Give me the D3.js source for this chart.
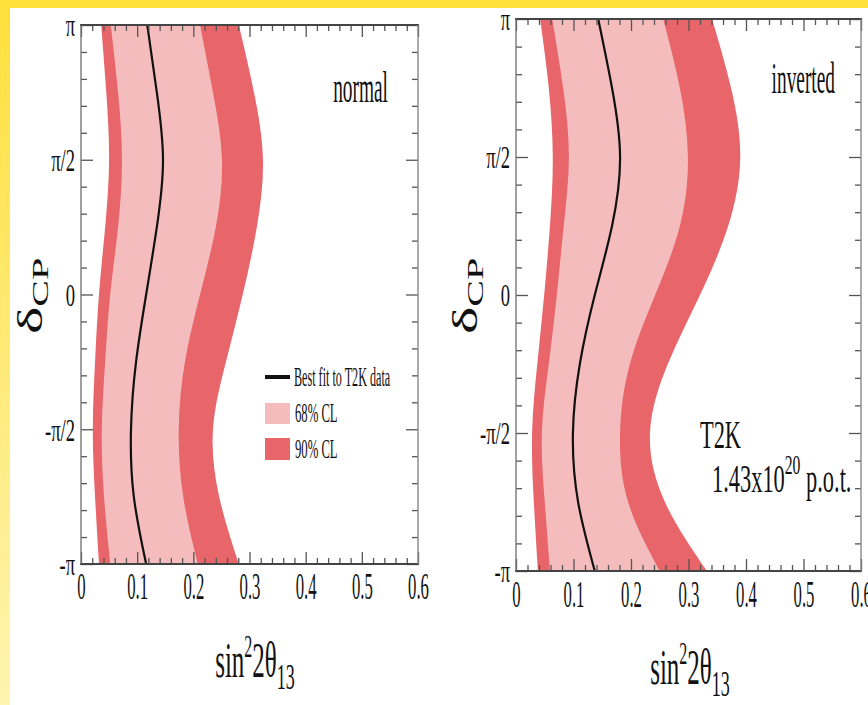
<!DOCTYPE html>
<html>
<head>
<meta charset="utf-8">
<script src="https://cdn.jsdelivr.net/npm/d3@7"></script>
<style>
  html, body { margin: 0; padding: 0; background: #fff; }
  svg { display: block; }
  text { font-family: "Liberation Serif", "DejaVu Serif", serif; fill: #111; }
</style>
</head>
<body>
<svg id="chart" width="868" height="705"></svg>
<script>
// delta_CP sample points, from +pi down to -pi
const PI = Math.PI;
const deltaCP = [PI, 0.75 * PI, 0.5 * PI, 0.25 * PI, 0, -0.25 * PI, -0.5 * PI, -0.75 * PI, -PI];

// Normal hierarchy: sin^2 2theta13 contour edges and best fit
const normalOuterLeft  = [0.036, 0.045, 0.050, 0.043, 0.032, 0.025, 0.021, 0.025, 0.032];
const normalInnerLeft  = [0.053, 0.066, 0.073, 0.066, 0.052, 0.043, 0.037, 0.041, 0.052];
const normalBestFit    = [0.118, 0.135, 0.146, 0.135, 0.116, 0.098, 0.089, 0.094, 0.116];
const normalInnerRight = [0.212, 0.235, 0.251, 0.240, 0.212, 0.185, 0.174, 0.182, 0.208];
const normalOuterRight = [0.281, 0.308, 0.324, 0.313, 0.288, 0.258, 0.235, 0.246, 0.281];

// Inverted hierarchy
const invertedOuterLeft  = [0.042, 0.057, 0.064, 0.059, 0.049, 0.037, 0.028, 0.031, 0.038];
const invertedInnerLeft  = [0.063, 0.082, 0.092, 0.083, 0.071, 0.057, 0.045, 0.050, 0.059];
const invertedBestFit    = [0.143, 0.167, 0.181, 0.167, 0.137, 0.111, 0.099, 0.108, 0.137];
const invertedInnerRight = [0.256, 0.285, 0.299, 0.285, 0.242, 0.198, 0.181, 0.195, 0.250];
const invertedOuterRight = [0.341, 0.374, 0.390, 0.369, 0.320, 0.264, 0.233, 0.259, 0.332];

// Axis ticks
const xMajorTicks = [0, 0.1, 0.2, 0.3, 0.4, 0.5, 0.6];
const xTickLabels = ["0", "0.1", "0.2", "0.3", "0.4", "0.5", "0.6"];
const yMajorTicks = [-PI, -PI / 2, 0, PI / 2, PI];
const yTickLabels = ["-\u03c0", "-\u03c0/2", "0", "\u03c0/2", "\u03c0"];

const legendLabels = ["Best fit to T2K data", "68% CL", "90% CL"];

const COLOR_68 = "#f4bcbd";
const COLOR_90 = "#e8656a";

const svg = d3.select("#chart");

// page frame: yellow bands on top and left
const defs = svg.append("defs");
const grad = defs.append("linearGradient").attr("id", "leftBand")
  .attr("x1", 0).attr("y1", 0).attr("x2", 0).attr("y2", 1);
grad.append("stop").attr("offset", "0%").attr("stop-color", "#ffe03c");
grad.append("stop").attr("offset", "100%").attr("stop-color", "#fff4b0");
svg.append("rect").attr("x", 0).attr("y", 0).attr("width", 868).attr("height", 705).attr("fill", "#fff");
svg.append("rect").attr("x", 0).attr("y", 0).attr("width", 868).attr("height", 8).attr("fill", "#ffe03c");
svg.append("rect").attr("x", 0).attr("y", 0).attr("width", 10).attr("height", 705).attr("fill", "url(#leftBand)");

const panels = [
  {
    id: "normal", left: 81, right: 418, top: 25, bottom: 564,
    outerL: normalOuterLeft, innerL: normalInnerLeft, best: normalBestFit,
    innerR: normalInnerRight, outerR: normalOuterRight,
    tag: "normal", tagX: 388, tagY: 102, legend: true,
    xLabelY: 599, titleX: 255, titleY: 677, yTitleX: 42, yTitleY: 296
  },
  {
    id: "inverted", left: 516, right: 861, top: 19, bottom: 571,
    outerL: invertedOuterLeft, innerL: invertedInnerLeft, best: invertedBestFit,
    innerR: invertedInnerRight, outerR: invertedOuterRight,
    tag: "inverted", tagX: 835, tagY: 93, legend: false,
    xLabelY: 607, titleX: 690, titleY: 684, yTitleX: 477, yTitleY: 296
  }
];

// horizontally condensed serif text
function condensedText(parent, x, y, str, size, anchor, sx) {
  const g = parent.append("g").attr("transform", `translate(${x},${y}) scale(${sx},1)`);
  return g.append("text").attr("x", 0).attr("y", 0)
    .attr("font-size", size).attr("text-anchor", anchor || "start").text(str);
}

panels.forEach(p => {
  const g = svg.append("g").attr("class", "panel-" + p.id);
  const x = d3.scaleLinear().domain([0, 0.6]).range([p.left, p.right]);
  const y = d3.scaleLinear().domain([-PI, PI]).range([p.bottom, p.top]);

  const clipId = "clip-" + p.id;
  defs.append("clipPath").attr("id", clipId).append("rect")
    .attr("x", p.left).attr("y", p.top)
    .attr("width", p.right - p.left).attr("height", p.bottom - p.top);

  const plot = g.append("g").attr("clip-path", `url(#${clipId})`);
  const rows = deltaCP.map((d, i) => ({
    d, oL: p.outerL[i], iL: p.innerL[i], b: p.best[i], iR: p.innerR[i], oR: p.outerR[i]
  }));

  const band = (k0, k1) => d3.area()
    .y(r => y(r.d)).x0(r => x(r[k0])).x1(r => x(r[k1]))
    .curve(d3.curveNatural);

  plot.append("path").datum(rows).attr("d", band("oL", "oR")).attr("fill", COLOR_90);
  plot.append("path").datum(rows).attr("d", band("iL", "iR")).attr("fill", COLOR_68);
  plot.append("path").datum(rows)
    .attr("d", d3.line().y(r => y(r.d)).x(r => x(r.b)).curve(d3.curveNatural))
    .attr("fill", "none").attr("stroke", "#111").attr("stroke-width", 2.2);

  // minor ticks
  const xMinor = d3.range(0, 0.6001, 0.02).filter(v => Math.abs(v * 10 - Math.round(v * 10)) > 1e-6);
  const yMinor = d3.range(-10, 11).map(k => k * PI / 10).filter((v, i) => (i % 5) !== 0);

  const axisStyle = sel => {
    sel.select(".domain").remove();
    sel.selectAll(".tick line").attr("stroke", "#555").attr("stroke-width", 1.3);
  };

  // bottom axis with labels
  const bottom = g.append("g").attr("transform", `translate(0,${p.bottom})`)
    .call(d3.axisBottom(x).tickValues(xMajorTicks).tickSize(-12).tickPadding(0)
      .tickFormat((d, i) => xTickLabels[i]));
  axisStyle(bottom);
  bottom.selectAll(".tick text")
    .attr("y", p.xLabelY - p.bottom).attr("dy", 0)
    .attr("font-size", 38).attr("fill", "#111")
    .attr("font-family", "Liberation Serif, serif")
    .attr("transform", "scale(0.44,1)");
  g.append("g").attr("transform", `translate(0,${p.bottom})`)
    .call(d3.axisBottom(x).tickValues(xMinor).tickSize(-6).tickFormat(""))
    .call(axisStyle);

  // top axis, ticks only
  g.append("g").attr("transform", `translate(0,${p.top})`)
    .call(d3.axisTop(x).tickValues(xMajorTicks).tickSize(-12).tickFormat(""))
    .call(axisStyle);
  g.append("g").attr("transform", `translate(0,${p.top})`)
    .call(d3.axisTop(x).tickValues(xMinor).tickSize(-6).tickFormat(""))
    .call(axisStyle);

  // left axis with labels
  const leftAx = g.append("g").attr("transform", `translate(${p.left},0)`)
    .call(d3.axisLeft(y).tickValues(yMajorTicks).tickSize(-12).tickPadding(6)
      .tickFormat((d, i) => yTickLabels[i]));
  axisStyle(leftAx);
  leftAx.selectAll(".tick text")
    .attr("x", -6 / 0.58).attr("dy", "0.34em")
    .attr("font-size", 32).attr("fill", "#111")
    .attr("font-family", "Liberation Serif, serif")
    .attr("transform", "scale(0.58,1)");
  g.append("g").attr("transform", `translate(${p.left},0)`)
    .call(d3.axisLeft(y).tickValues(yMinor).tickSize(-6).tickFormat(""))
    .call(axisStyle);

  // right axis, ticks only
  g.append("g").attr("transform", `translate(${p.right},0)`)
    .call(d3.axisRight(y).tickValues(yMajorTicks).tickSize(-12).tickFormat(""))
    .call(axisStyle);
  g.append("g").attr("transform", `translate(${p.right},0)`)
    .call(d3.axisRight(y).tickValues(yMinor).tickSize(-6).tickFormat(""))
    .call(axisStyle);

  // frame
  g.append("line").attr("x1", p.left - 1).attr("x2", p.right + 1).attr("y1", p.top).attr("y2", p.top)
    .attr("stroke", "#444").attr("stroke-width", 2);
  g.append("line").attr("x1", p.left - 1).attr("x2", p.right + 1).attr("y1", p.bottom).attr("y2", p.bottom)
    .attr("stroke", "#444").attr("stroke-width", 2);
  g.append("line").attr("x1", p.left).attr("x2", p.left).attr("y1", p.top).attr("y2", p.bottom)
    .attr("stroke", "#777").attr("stroke-width", 1.4);
  g.append("line").attr("x1", p.right).attr("x2", p.right).attr("y1", p.top).attr("y2", p.bottom)
    .attr("stroke", "#888").attr("stroke-width", 1.4);

  // hierarchy tag
  condensedText(g, p.tagX, p.tagY, p.tag, 44, "end", 0.44);

  // x title: sin^2 2theta_13
  const tg = g.append("g").attr("transform", `translate(${p.titleX},${p.titleY}) scale(0.5,1)`);
  const tt = tg.append("text").attr("font-size", 50).attr("text-anchor", "middle");
  tt.append("tspan").text("sin");
  tt.append("tspan").attr("font-size", 32).attr("dy", -20).text("2");
  tt.append("tspan").attr("dy", 20).text("2\u03b8");
  tt.append("tspan").attr("font-size", 36).attr("dy", 12).text("13");

  // y title: delta_CP
  const yg = g.append("g").attr("transform", `translate(${p.yTitleX},${p.yTitleY}) rotate(-90) scale(1,0.6)`);
  const yt = yg.append("text").attr("font-size", 58).attr("text-anchor", "middle");
  yt.append("tspan").text("\u03b4");
  yt.append("tspan").attr("font-size", 40).attr("dy", 10).text("CP");

  if (p.legend) {
    const lg = g.append("g");
    lg.append("line").attr("x1", 265).attr("x2", 290).attr("y1", 377).attr("y2", 377)
      .attr("stroke", "#111").attr("stroke-width", 4);
    lg.append("rect").attr("x", 265).attr("y", 403).attr("width", 25).attr("height", 21).attr("fill", COLOR_68);
    lg.append("rect").attr("x", 265).attr("y", 438).attr("width", 25).attr("height", 22).attr("fill", COLOR_90);
    condensedText(lg, 294, 386, legendLabels[0], 27, "start", 0.45);
    condensedText(lg, 295, 422, legendLabels[1], 27, "start", 0.47);
    condensedText(lg, 295, 458, legendLabels[2], 27, "start", 0.47);
  } else {
    condensedText(g, 700, 448, "T2K", 40, "start", 0.56);
    const pg = g.append("g").attr("transform", "translate(712,492) scale(0.56,1)");
    const pt = pg.append("text").attr("font-size", 40);
    pt.append("tspan").text("1.43x10");
    pt.append("tspan").attr("font-size", 28).attr("dy", -18).text("20");
    pt.append("tspan").attr("dy", 18).text(" p.o.t.");
  }
});
</script>
</body>
</html>
